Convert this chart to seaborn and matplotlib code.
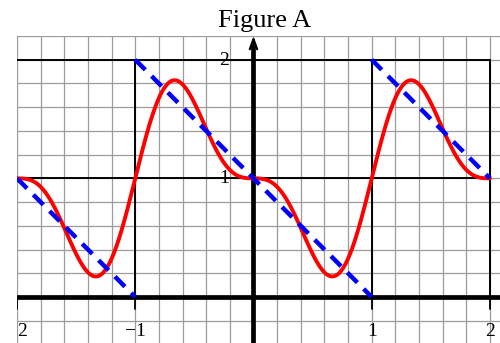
import numpy as np
import pandas as pd
import matplotlib
matplotlib.use("Agg")
import matplotlib.pyplot as plt
import seaborn as sns

# Sawtooth of period 2 (blue dashed), one row per straight piece
saw_segment = [0, 0, 1, 1, 2, 2]
saw_x = [-2.0, -1.0, -1.0, 1.0, 1.0, 2.0]
saw_y = [1.0, 0.0, 2.0, 0.0, 2.0, 1.0]

# Partial Fourier sum (red): mean value plus sine coefficients of sin(n*pi*x)
fourier_mean = 1.0
fourier_sine = [-2.0 / np.pi, 1.0 / np.pi]

# Tick labels
x_tick_pos = [-2, -1, 1, 2]
x_tick_txt = ["\u22122", "\u22121", "1", "2"]
y_tick_pos = [1, 2]
y_tick_txt = ["1", "2"]

title = "Figure A"

sns.set_theme(style="white")
plt.rcParams["font.family"] = ["Liberation Serif", "DejaVu Serif"]

fig = plt.figure(figsize=(5.0, 3.43), dpi=100)
ax = fig.add_axes([17 / 500, 0.0, 1 - 17 / 500, (343 - 36) / 343])
ax.set_xlim(-2.0, 2.085)
ax.set_ylim(-0.388, 2.2)
for s in ax.spines.values():
    s.set_visible(False)
ax.set_xticks([])
ax.set_yticks([])

# fine grid every 0.2
grid_col = "#9c9c9c"
for gx in np.arange(-2.0, 2.21, 0.2):
    ax.axvline(gx, color=grid_col, lw=0.9, zorder=0)
for gy in np.arange(-0.4, 2.21, 0.2):
    ax.axhline(gy, color=grid_col, lw=0.9, zorder=0)

# thin black frame lines
ax.plot([-2, 2], [1, 1], color="black", lw=1.4, zorder=1)
ax.plot([-2, 2], [2, 2], color="black", lw=1.4, zorder=1)
for vx in [-1, 1, 2]:
    ax.plot([vx, vx], [0, 2], color="black", lw=1.4, zorder=1)

# axes
ax.axhline(0, color="black", lw=3.4, zorder=2)
ax.plot([0, 0], [-0.4, 2.12], color="black", lw=3.4, zorder=2, solid_capstyle="butt")
ax.annotate("", xy=(0, 2.2), xytext=(0, 2.05),
            arrowprops=dict(arrowstyle="->,head_length=0.6,head_width=0.22",
                            color="black", lw=1.6, shrinkA=0, shrinkB=0),
            zorder=3)
for tx in x_tick_pos:
    ax.plot([tx, tx], [0, -0.1], color="black", lw=1.3, zorder=2)

# red Fourier partial sum
xs = np.linspace(-2, 2, 801)
ys = fourier_mean + sum(b * np.sin((n + 1) * np.pi * xs) for n, b in enumerate(fourier_sine))
sns.lineplot(x=xs, y=ys, color="#ff0000", lw=2.8, ax=ax, zorder=4)

# blue dashed sawtooth
saw = pd.DataFrame({"seg": saw_segment, "x": saw_x, "y": saw_y})
sns.lineplot(data=saw, x="x", y="y", units="seg", estimator=None, sort=False,
             color="#0000ff", lw=3.2, dashes=False, ax=ax, zorder=5,
             linestyle=(0, (3.2, 2.0)))

# tick labels
for tx, tt in zip(x_tick_pos, x_tick_txt):
    ax.text(tx, -0.295, tt, ha="center", va="center", fontsize=14,
            color="black", clip_on=True, zorder=6)
for ty, tt in zip(y_tick_pos, y_tick_txt):
    ax.text(-0.25, ty - 0.005, tt, ha="center", va="center", fontsize=14,
            color="black", zorder=6)

fig.text(0.53, 1 - 27 / 343, title, ha="center", va="baseline", fontsize=19,
         color="black")

fig.savefig("out.png", dpi=100)
